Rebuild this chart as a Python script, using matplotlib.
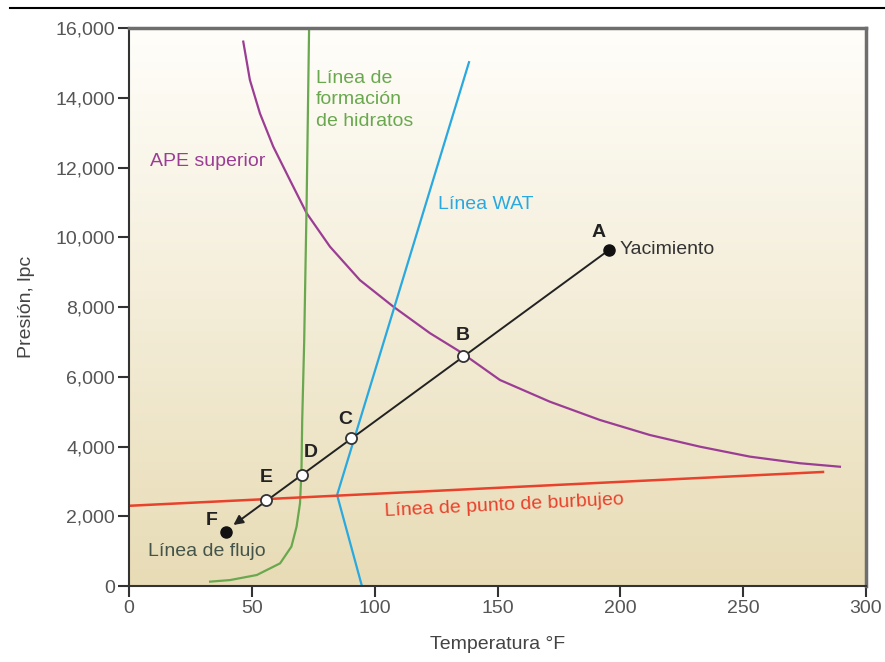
import numpy as np
import matplotlib
matplotlib.use('Agg')
import matplotlib.pyplot as plt
from matplotlib.lines import Line2D
from matplotlib.colors import LinearSegmentedColormap
from matplotlib.ticker import FuncFormatter

plt.rcParams['font.family'] = ['Liberation Sans', 'DejaVu Sans']
FS = 14

# Curva APE superior
ape_t = [46.5, 49.2, 53.3, 58.7, 65.5, 72.3, 81.8, 94.0, 107.6, 122.5, 134.7,
         151.0, 171.3, 191.7, 212.0, 232.4, 252.7, 273.1, 289.4]
ape_p = [15610, 14510, 13550, 12600, 11640, 10690, 9730, 8770, 8010, 7250, 6720,
         5907, 5285, 4760, 4330, 3995, 3710, 3520, 3420]

# Linea de formacion de hidratos
hid_t = [33.0, 41.1, 52.0, 61.5, 66.1, 68.2, 69.6, 70.2, 70.5, 71.3, 72.3, 73.3]
hid_p = [125, 170, 315, 650, 1130, 1700, 2370, 3330, 4760, 7000, 11000, 16000]

# Linea WAT
wat_t = [138.4, 84.7, 94.8]
wat_p = [15020, 2610, 0]

# Linea de punto de burbujeo
bub_t = [0, 282.5]
bub_p = [2300, 3270]

# Linea de flujo: A (yacimiento) ... F
flujo_lbl = ['A', 'B', 'C', 'D', 'E', 'F']
flujo_t = [195.4, 136.0, 90.4, 70.4, 55.8, 39.5]
flujo_p = [9635, 6595, 4230, 3180, 2466, 1550]
punta_t, punta_p = 42.5, 1750

fig = plt.figure(figsize=(8.85, 6.62), dpi=100)
ax = fig.add_axes([0.1458, 0.1148, 0.8327, 0.8429])

# fondo degradado
cmap = LinearSegmentedColormap.from_list('fondo', ['#e8dcb6', '#fffefa'])
grad = np.linspace(0, 1, 256).reshape(-1, 1)
ax.imshow(grad, extent=[0, 300, 0, 16000], origin='lower', aspect='auto',
          cmap=cmap, zorder=0)

ax.plot(ape_t, ape_p, color='#9b3d95', lw=1.6, zorder=2)
ax.plot(hid_t, hid_p, color='#6aa84f', lw=1.6, zorder=2)
ax.plot(wat_t, wat_p, color='#29a9e0', lw=1.6, zorder=2)
ax.plot(bub_t, bub_p, color='#e8412c', lw=1.8, zorder=2)

# linea de flujo con flecha
ax.annotate('', xy=(punta_t, punta_p), xytext=(flujo_t[0], flujo_p[0]),
            arrowprops=dict(arrowstyle='-|>', color='#222222', lw=1.4,
                            mutation_scale=14, shrinkA=0, shrinkB=0), zorder=3)
ax.plot(flujo_t[1:5], flujo_p[1:5], 'o', ms=8, mfc='white', mec='#333333',
        mew=1.3, zorder=4)
ax.plot([flujo_t[0], flujo_t[5]], [flujo_p[0], flujo_p[5]], 'o', ms=8,
        color='#111111', zorder=4)

lbl_pos = [(191.3, 10150), (136.0, 7197), (87.9, 4760),
           (74.1, 3814), (55.8, 3097), (33.8, 1892)]
for l, (tx, ty) in zip(flujo_lbl, lbl_pos):
    ax.text(tx, ty, l, fontsize=FS, fontweight='bold', color='#222222',
            ha='center', va='center', zorder=5)

ax.text(199.8, 9635, 'Yacimiento', fontsize=FS, color='#333333', va='center')
ax.text(7.7, 975, 'Línea de flujo', fontsize=FS, color='#44544a', va='center')
ax.text(8.5, 12160, 'APE superior', fontsize=FS, color='#9b3d95', va='center')
ax.text(76.1, 14800, 'Línea de\nformación\nde hidratos', fontsize=FS,
        color='#6aa84f', va='top', linespacing=1.35)
ax.text(125.8, 10925, 'Línea WAT', fontsize=FS, color='#29a9e0', va='center')
ax.text(104.2, 2150, 'Línea de punto de burbujeo', fontsize=FS, color='#e8412c',
        va='center', ha='left', rotation=2.8, rotation_mode='anchor')

ax.set_xlim(0, 300)
ax.set_ylim(0, 16000)
ax.set_xticks(range(0, 301, 50))
ax.set_yticks(range(0, 16001, 2000))
ax.yaxis.set_major_formatter(FuncFormatter(lambda v, p: f'{int(v):,}'))
ax.tick_params(direction='out', length=8, width=1.5, color='#333333',
               labelsize=FS, labelcolor='#555555', pad=2)

for s in ['left', 'bottom']:
    ax.spines[s].set_color('#333333')
    ax.spines[s].set_linewidth(1.5)
for s in ['top', 'right']:
    ax.spines[s].set_color('#6e6e6e')
    ax.spines[s].set_linewidth(2.5)

ax.set_xlabel('Temperatura °F', fontsize=FS, color='#444444', labelpad=14)
ax.set_ylabel('Presión, lpc', fontsize=FS, color='#444444', labelpad=15)

fig.add_artist(Line2D([10 / 885, 1], [1 - 8 / 662, 1 - 8 / 662],
                      color='black', lw=1.5))

fig.savefig('out.png', dpi=100)
